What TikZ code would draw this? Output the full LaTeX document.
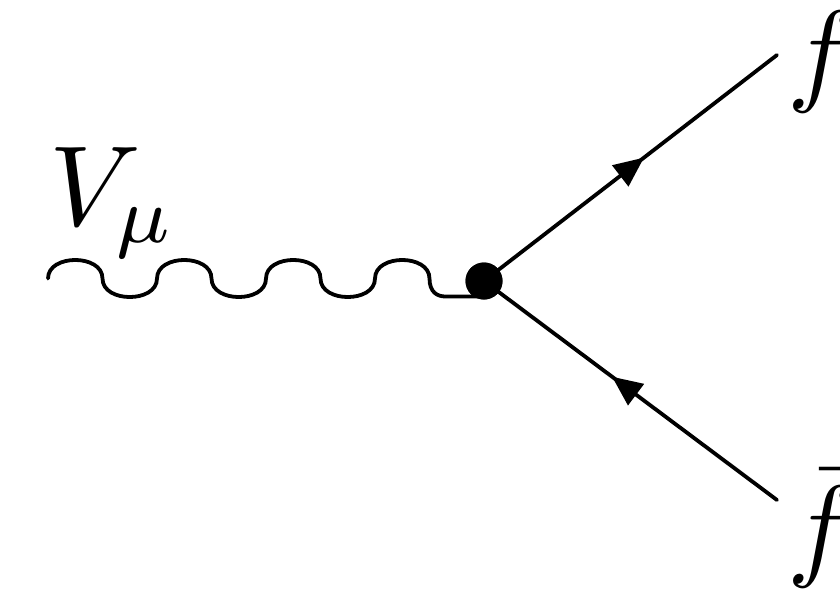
\documentclass[tikz,border=0pt]{standalone}
\usetikzlibrary{arrows.meta,decorations.markings}
\tikzset{
  lbl/.style={scale=11.4, inner sep=0pt, anchor=base west},
  fermion/.style={line width=3.8pt, line cap=round,
    postaction={decorate},
    decoration={markings, mark=at position #1 with {\arrow{Triangle[length=30pt,width=26pt]}}}},
  boson/.style={line width=3.8pt, line cap=round},
  vtx/.style={circle, fill=black, inner sep=0pt, minimum size=37pt}
}
\begin{document}
\begin{tikzpicture}[x=1pt,y=-1pt]
\useasboundingbox[fill=white] (0,0) rectangle (840,592);
\def\c{24.7}
\node[vtx] (v) at (484,281) {};
\coordinate (w) at (48,278.5);
\coordinate (wend) at (478,296.5);
\coordinate (fe) at (777,55);
\coordinate (fbe) at (777,500);
% wavy vector boson
\draw[boson] (w)
  .. controls +(0,-\c) and +(0,-\c) .. ++(54.5,0)
  .. controls +(0,\c) and +(0,\c) .. ++(54.5,0)
  .. controls +(0,-\c) and +(0,-\c) .. ++(54.5,0)
  .. controls +(0,\c) and +(0,\c) .. ++(54.5,0)
  .. controls +(0,-\c) and +(0,-\c) .. ++(54.5,0)
  .. controls +(0,\c) and +(0,\c) .. ++(54.5,0)
  .. controls +(0,-\c) and +(0,-\c) .. ++(54.5,0)
  .. controls +(0,14) and +(-8,0) .. ++(16,18)
  -- (wend);
% fermion lines
\draw[fermion=0.546] (v.center) -- (fe);
\draw[fermion=0.563] (fbe) -- (v.center);
\node[vtx] at (v) {};
% labels
\node[lbl] (lV) at (47,225) {$V_\mu$};
\node[lbl] (lf) at (785,90) {$f$};
\node[lbl] (lfb) at (785,565) {$\bar f$};
\end{tikzpicture}
\end{document}
